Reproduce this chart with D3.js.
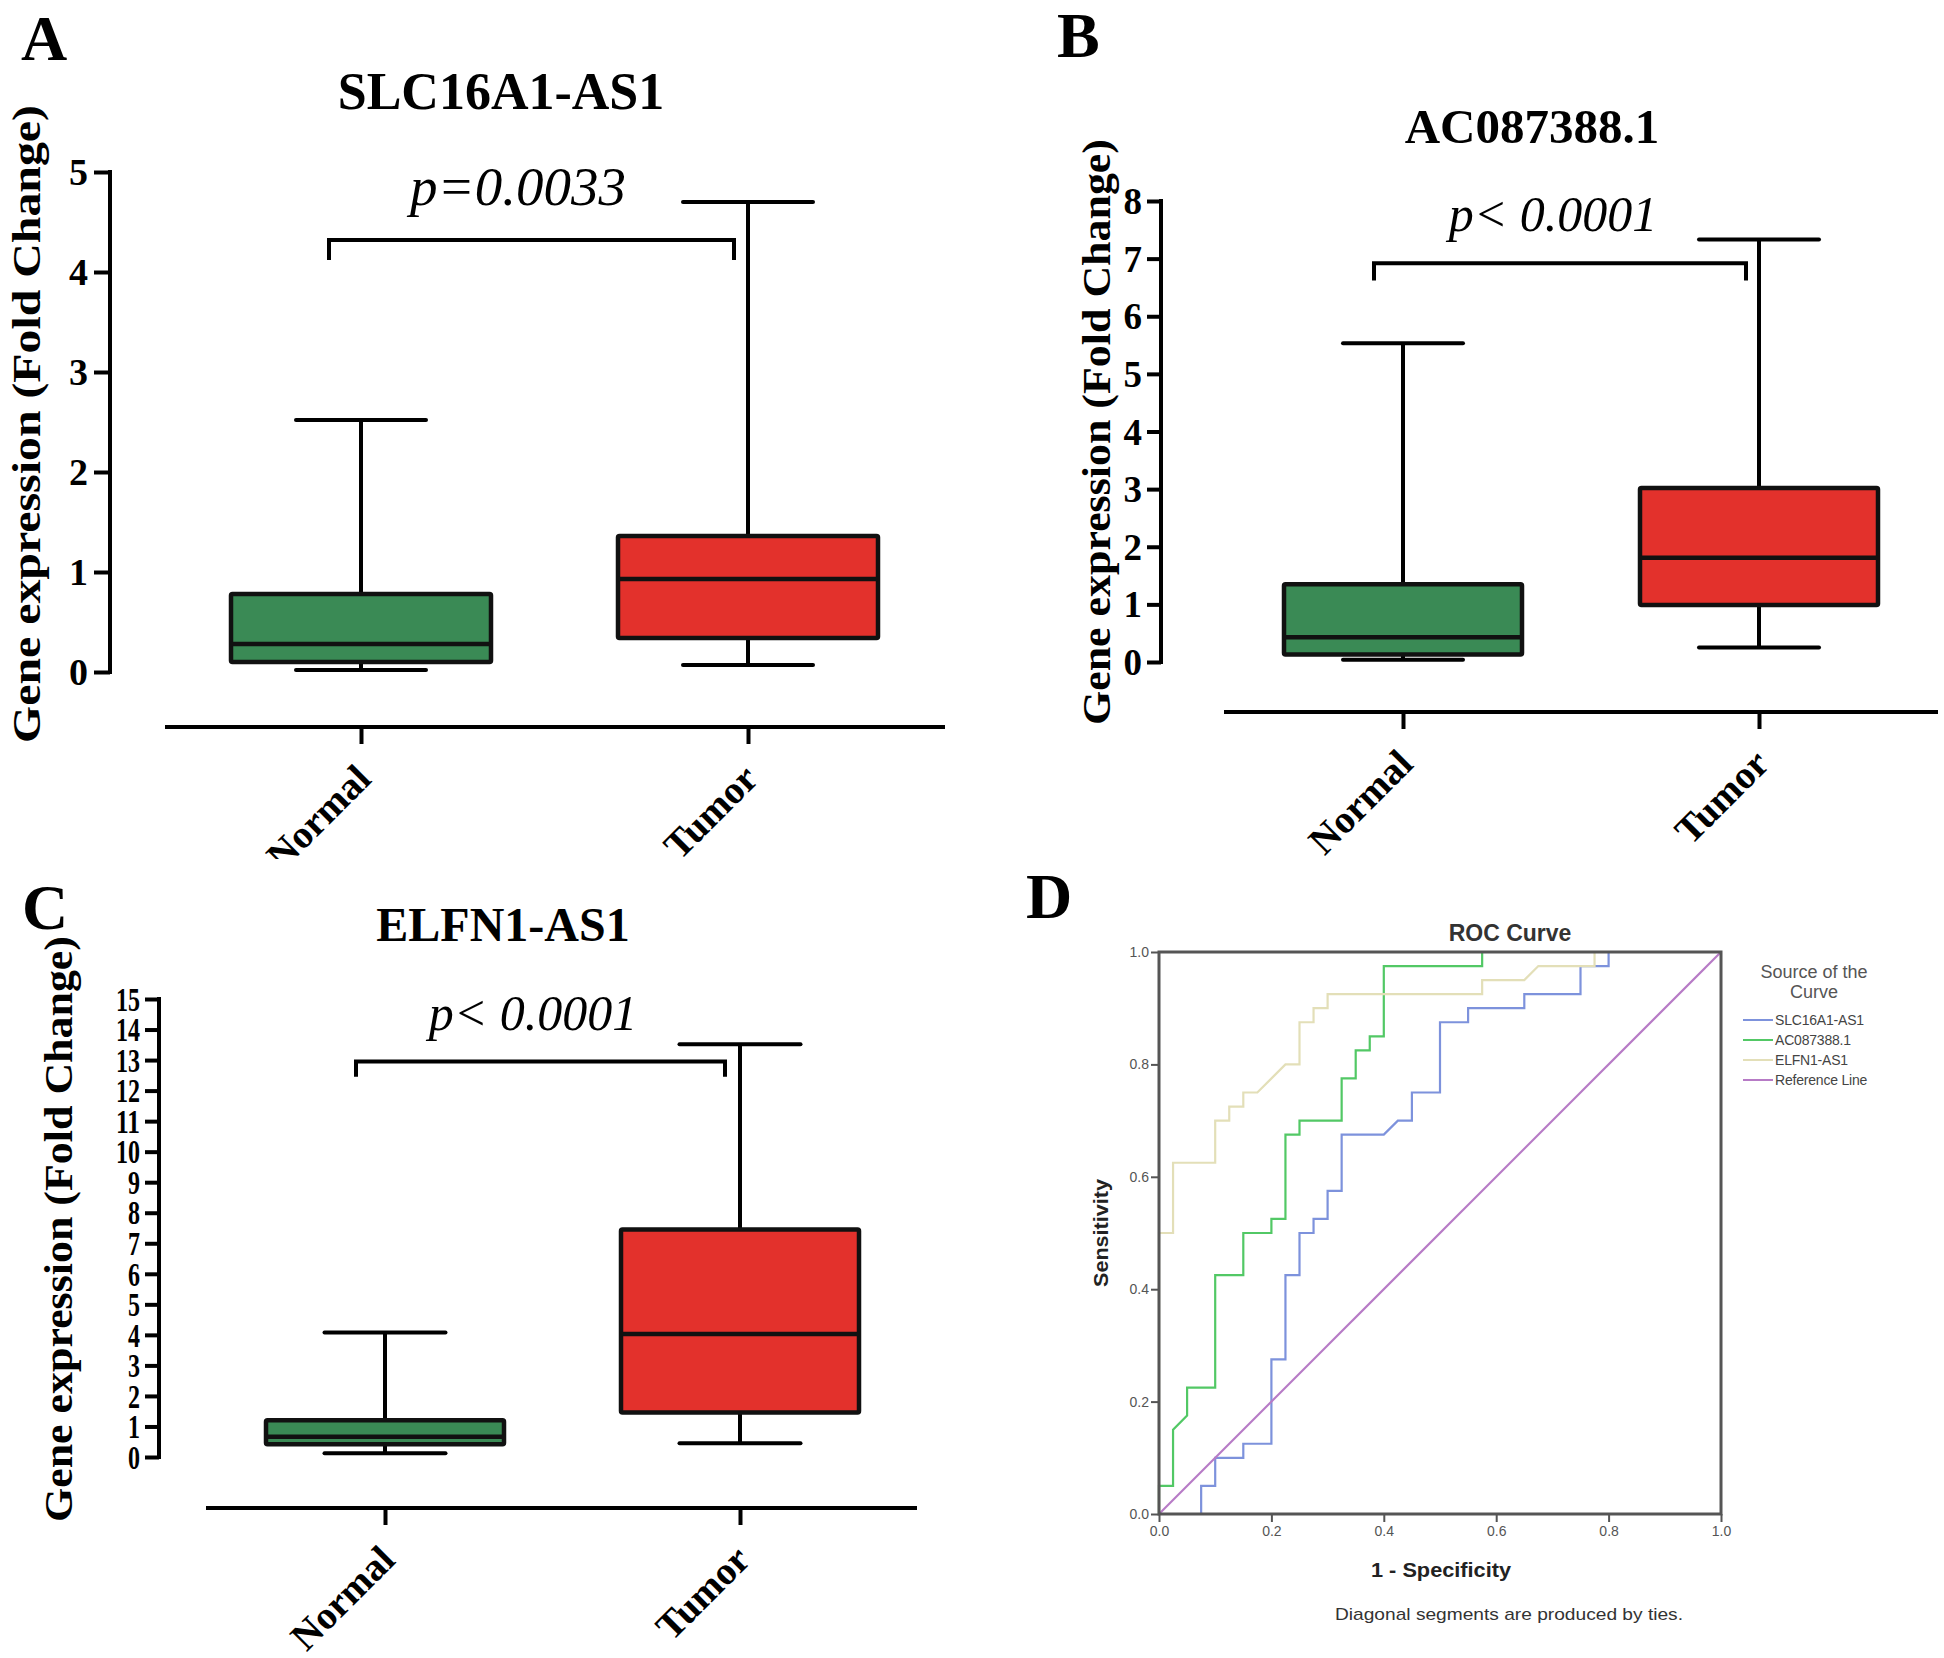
<!DOCTYPE html>
<html>
<head>
<meta charset="utf-8">
<script src="https://cdnjs.cloudflare.com/ajax/libs/d3/7.8.5/d3.min.js"></script>
<style>
  html, body { margin: 0; padding: 0; background: #fff; }
  svg { display: block; }
</style>
</head>
<body>
<svg id="chart" width="1944" height="1658"></svg>
<script>
// ---------------- DATA ----------------
const groups = ["Normal", "Tumor"];

// box stats: [whisker min, Q1, median, Q3, whisker max]
const slcNormal = [0.02, 0.10, 0.28, 0.78, 2.52];
const slcTumor  = [0.07, 0.34, 0.93, 1.36, 4.70];
const acNormal  = [0.04, 0.13, 0.43, 1.35, 5.53];
const acTumor   = [0.25, 0.99, 1.81, 3.02, 7.33];
const elfNormal = [0.12, 0.42, 0.66, 1.20, 4.08];
const elfTumor  = [0.45, 1.46, 4.03, 7.45, 13.52];

// y-axis ticks
const ticksA = [0, 1, 2, 3, 4, 5];
const ticksB = [0, 1, 2, 3, 4, 5, 6, 7, 8];
const ticksC = [0, 1, 2, 3, 4, 5, 6, 7, 8, 9, 10, 11, 12, 13, 14, 15];

// significance brackets: [bar level, leg end level]
const bracketA = [4.32, 4.12];
const bracketB = [6.92, 6.62];
const bracketC = [12.95, 12.45];
const pTexts = ["p=0.0033", "p< 0.0001", "p< 0.0001"];
const titles = ["SLC16A1-AS1", "AC087388.1", "ELFN1-AS1"];

// ROC curves: [1 - specificity, sensitivity]
const rocSLC = [[0,0],[0.075,0],[0.075,0.05],[0.1,0.05],[0.1,0.1],[0.15,0.1],[0.15,0.125],[0.2,0.125],[0.2,0.275],[0.225,0.275],[0.225,0.425],[0.25,0.425],[0.25,0.5],[0.275,0.5],[0.275,0.525],[0.3,0.525],[0.3,0.575],[0.325,0.575],[0.325,0.675],[0.4,0.675],[0.425,0.7],[0.45,0.7],[0.45,0.75],[0.5,0.75],[0.5,0.875],[0.55,0.875],[0.55,0.9],[0.65,0.9],[0.65,0.925],[0.75,0.925],[0.75,0.975],[0.8,0.975],[0.8,1],[1,1]];
const rocAC = [[0,0],[0,0.05],[0.025,0.05],[0.025,0.15],[0.05,0.175],[0.05,0.225],[0.1,0.225],[0.1,0.425],[0.15,0.425],[0.15,0.5],[0.2,0.5],[0.2,0.525],[0.225,0.525],[0.225,0.675],[0.25,0.675],[0.25,0.7],[0.325,0.7],[0.325,0.775],[0.35,0.775],[0.35,0.825],[0.375,0.825],[0.375,0.85],[0.4,0.85],[0.4,0.975],[0.575,0.975],[0.575,1],[1,1]];
const rocELF = [[0,0],[0,0.5],[0.025,0.5],[0.025,0.625],[0.1,0.625],[0.1,0.7],[0.125,0.7],[0.125,0.725],[0.15,0.725],[0.15,0.75],[0.175,0.75],[0.225,0.8],[0.25,0.8],[0.25,0.875],[0.275,0.875],[0.275,0.9],[0.3,0.9],[0.3,0.925],[0.575,0.925],[0.575,0.95],[0.65,0.95],[0.675,0.975],[0.775,0.975],[0.775,1],[1,1]];
const rocRef = [[0,0],[1,1]];
const rocTicks = [0, 0.2, 0.4, 0.6, 0.8, 1.0];
const legendNames = ["SLC16A1-AS1", "AC087388.1", "ELFN1-AS1", "Reference Line"];

// ---------------- DRAW ----------------
const svg = d3.select("#chart");
svg.append("rect").attr("width", 1944).attr("height", 1658).attr("fill", "#fff");

const SERIF = "'Liberation Serif', 'Times New Roman', serif";
const SANS = "'Liberation Sans', Arial, sans-serif";
const GREEN = "#3a8a55", RED = "#e3312c";

const defs = svg.append("defs");
defs.append("clipPath").attr("id", "clipA").append("rect")
  .attr("x", 0).attr("y", 0).attr("width", 972).attr("height", 859);

function boxPanel(c) {
  const g = svg.append("g");
  if (c.clip) g.attr("clip-path", "url(#" + c.clip + ")");
  const y = d3.scaleLinear().domain([0, c.max]).range([c.y0, c.yTop]);
  const x = d3.scalePoint().domain(groups).range(c.centers);

  // panel letter
  svg.append("text").attr("x", c.labelX).attr("y", c.labelY)
    .attr("font-family", SERIF).attr("font-weight", "bold").attr("font-size", 64)
    .text(c.letter);
  // title
  g.append("text").attr("x", c.titleX).attr("y", c.titleY).attr("text-anchor", "middle")
    .attr("font-family", SERIF).attr("font-weight", "bold").attr("font-size", c.titleFont)
    .text(c.title);
  // y label
  g.append("text")
    .attr("transform", `translate(${c.ylabX},${c.ylabY}) rotate(-90)`)
    .attr("text-anchor", "middle")
    .attr("font-family", SERIF).attr("font-weight", "bold").attr("font-size", 41)
    .attr("textLength", c.ylabLen).attr("lengthAdjust", "spacingAndGlyphs")
    .text("Gene expression (Fold Change)");

  // y axis
  const yAxis = d3.axisLeft(y).tickValues(c.ticks).tickSize(c.tickLen).tickPadding(c.tickPad)
    .tickFormat(d3.format("d"));
  const ya = g.append("g").attr("transform", `translate(${c.axisX},0)`).call(yAxis);
  ya.select(".domain").attr("stroke", "#000").attr("stroke-width", 4)
    .attr("d", `M0,${y(0) + 2}V${y(c.max) - 2}`);
  ya.selectAll(".tick line").attr("stroke", "#000").attr("stroke-width", 4);
  const tt = ya.selectAll(".tick text").attr("font-family", SERIF).attr("font-weight", "bold")
    .attr("font-size", c.tickFont).attr("fill", "#000").attr("dy", "0.34em");
  if (c.tickCharW) {
    tt.attr("textLength", function () { return this.textContent.length * c.tickCharW; })
      .attr("lengthAdjust", "spacingAndGlyphs");
  }

  // x axis (offset below)
  const xAxis = d3.axisBottom(x).tickSize(c.xTickLen).tickFormat("");
  const xa = g.append("g").attr("transform", `translate(0,${c.xAxisY})`).call(xAxis);
  xa.select(".domain").attr("stroke", "#000").attr("stroke-width", 4)
    .attr("d", `M${c.xAxisX1},0H${c.xAxisX2}`);
  xa.selectAll(".tick line").attr("stroke", "#000").attr("stroke-width", 4);
  groups.forEach(gr => {
    g.append("text")
      .attr("transform", `translate(${x(gr) + c.xlabDx},${c.xAxisY + c.xlabDy}) rotate(-45)`)
      .attr("text-anchor", "end")
      .attr("font-family", SERIF).attr("font-weight", "bold").attr("font-size", 39)
      .text(gr);
  });

  // boxes
  const stats = [c.stats[0], c.stats[1]];
  stats.forEach((s, i) => {
    const cx = x(groups[i]);
    const col = i === 0 ? GREEN : RED;
    g.append("line").attr("x1", cx).attr("x2", cx).attr("y1", y(s[0])).attr("y2", y(s[4]))
      .attr("stroke", "#000").attr("stroke-width", 4);
    [s[0], s[4]].forEach(v => {
      g.append("line").attr("x1", cx - c.capW / 2).attr("x2", cx + c.capW / 2)
        .attr("y1", y(v)).attr("y2", y(v))
        .attr("stroke", "#000").attr("stroke-width", 4).attr("stroke-linecap", "round");
    });
    g.append("rect").attr("x", cx - c.boxW / 2).attr("y", y(s[3]))
      .attr("width", c.boxW).attr("height", y(s[1]) - y(s[3]))
      .attr("fill", col).attr("stroke", "#111").attr("stroke-width", 4.5)
      .attr("rx", 1.5);
    g.append("line").attr("x1", cx - c.boxW / 2).attr("x2", cx + c.boxW / 2)
      .attr("y1", y(s[2])).attr("y2", y(s[2]))
      .attr("stroke", "#111").attr("stroke-width", 4.5);
  });

  // bracket
  const [bLevel, bLeg] = c.bracket;
  g.append("path")
    .attr("d", `M${c.brX[0]},${y(bLeg)}V${y(bLevel)}H${c.brX[1]}V${y(bLeg)}`)
    .attr("fill", "none").attr("stroke", "#000").attr("stroke-width", 4);
  g.append("text").attr("x", c.pX).attr("y", c.pY).attr("text-anchor", "middle")
    .attr("font-family", SERIF).attr("font-style", "italic").attr("font-size", c.pFont)
    .text(c.pText);
}

boxPanel({
  letter: "A", labelX: 21, labelY: 60, clip: "clipA",
  title: titles[0], titleX: 501, titleY: 109, titleFont: 52,
  ylabX: 40, ylabY: 424, ylabLen: 638,
  max: 5, y0: 672, yTop: 172, ticks: ticksA, axisX: 110, tickLen: 16, tickPad: 6, tickFont: 38,
  xAxisY: 727, xAxisX1: 165, xAxisX2: 945, xTickLen: 17, xlabDx: 12, xlabDy: 54,
  centers: [361, 748], boxW: 260, capW: 130,
  stats: [slcNormal, slcTumor],
  bracket: bracketA, brX: [329, 734], pText: pTexts[0], pX: 518, pY: 205, pFont: 55
});

boxPanel({
  letter: "B", labelX: 1057, labelY: 57,
  title: titles[1], titleX: 1532, titleY: 143, titleFont: 49,
  ylabX: 1110, ylabY: 432, ylabLen: 586,
  max: 8, y0: 662, yTop: 201, ticks: ticksB, axisX: 1161, tickLen: 14, tickPad: 5, tickFont: 37,
  xAxisY: 712, xAxisX1: 1224, xAxisX2: 1938, xTickLen: 17, xlabDx: 12, xlabDy: 54,
  centers: [1403, 1759], boxW: 238, capW: 120,
  stats: [acNormal, acTumor],
  bracket: bracketB, brX: [1374, 1746], pText: pTexts[1], pX: 1553, pY: 231, pFont: 50
});

boxPanel({
  letter: "C", labelX: 22, labelY: 929,
  title: titles[2], titleX: 503, titleY: 941, titleFont: 48,
  ylabX: 72, ylabY: 1229, ylabLen: 586,
  max: 15, y0: 1457, yTop: 999, ticks: ticksC, axisX: 159, tickLen: 14, tickPad: 5, tickFont: 33,
  tickCharW: 12,
  xAxisY: 1508, xAxisX1: 206, xAxisX2: 917, xTickLen: 17, xlabDx: 12, xlabDy: 54,
  centers: [385, 740], boxW: 238, capW: 121,
  stats: [elfNormal, elfTumor],
  bracket: bracketC, brX: [356, 725], pText: pTexts[2], pX: 533, pY: 1030, pFont: 50
});

// ---------------- PANEL D: ROC ----------------
const D = svg.append("g");
D.append("text").attr("x", 1026).attr("y", 918)
  .attr("font-family", SERIF).attr("font-weight", "bold").attr("font-size", 64).text("D");

const rx = d3.scaleLinear().domain([0, 1]).range([1159, 1721]);
const ry = d3.scaleLinear().domain([0, 1]).range([1514, 952]);

D.append("text").attr("x", 1510).attr("y", 941).attr("text-anchor", "middle")
  .attr("font-family", SANS).attr("font-weight", "bold").attr("font-size", 23)
  .attr("fill", "#333").text("ROC Curve");

const line = d3.line().x(d => rx(d[0])).y(d => ry(d[1]));
const rocSeries = [rocSLC, rocAC, rocELF, rocRef];
const rocColors = ["#7d92dc", "#52c865", "#e3dfb8", "#b77bc6"];
rocSeries.forEach((s, i) => {
  D.append("path").attr("d", line(s)).attr("fill", "none")
    .attr("stroke", rocColors[i]).attr("stroke-width", 2.2);
});

// frame
D.append("rect").attr("x", rx(0)).attr("y", ry(1)).attr("width", rx(1) - rx(0))
  .attr("height", ry(0) - ry(1)).attr("fill", "none").attr("stroke", "#555").attr("stroke-width", 3);

const ax = d3.axisBottom(rx).tickValues(rocTicks).tickSize(8).tickPadding(4).tickFormat(d3.format(".1f"));
const axg = D.append("g").attr("transform", `translate(0,${ry(0)})`).call(ax);
axg.select(".domain").remove();
axg.selectAll(".tick line").attr("stroke", "#555").attr("stroke-width", 2);
axg.selectAll(".tick text").attr("font-family", SANS).attr("font-size", 14).attr("fill", "#555");

const ay = d3.axisLeft(ry).tickValues(rocTicks).tickSize(8).tickPadding(2).tickFormat(d3.format(".1f"));
const ayg = D.append("g").attr("transform", `translate(${rx(0)},0)`).call(ay);
ayg.select(".domain").remove();
ayg.selectAll(".tick line").attr("stroke", "#555").attr("stroke-width", 2);
ayg.selectAll(".tick text").attr("font-family", SANS).attr("font-size", 14).attr("fill", "#555");

D.append("text").attr("transform", `translate(1108,1233) rotate(-90)`).attr("text-anchor", "middle")
  .attr("font-family", SANS).attr("font-weight", "bold").attr("font-size", 20).attr("fill", "#222")
  .attr("textLength", 108).attr("lengthAdjust", "spacingAndGlyphs").text("Sensitivity");
D.append("text").attr("x", 1441).attr("y", 1577).attr("text-anchor", "middle")
  .attr("font-family", SANS).attr("font-weight", "bold").attr("font-size", 20).attr("fill", "#222")
  .attr("textLength", 140).attr("lengthAdjust", "spacingAndGlyphs").text("1 - Specificity");
D.append("text").attr("x", 1509).attr("y", 1620).attr("text-anchor", "middle")
  .attr("font-family", SANS).attr("font-size", 17).attr("fill", "#333")
  .attr("textLength", 348).attr("lengthAdjust", "spacingAndGlyphs")
  .text("Diagonal segments are produced by ties.");

// legend
D.append("text").attr("x", 1814).attr("y", 978).attr("text-anchor", "middle")
  .attr("font-family", SANS).attr("font-size", 18).attr("fill", "#555").text("Source of the");
D.append("text").attr("x", 1814).attr("y", 998).attr("text-anchor", "middle")
  .attr("font-family", SANS).attr("font-size", 18).attr("fill", "#555").text("Curve");
legendNames.forEach((n, i) => {
  const yy = 1020 + i * 20;
  D.append("line").attr("x1", 1743).attr("x2", 1773).attr("y1", yy).attr("y2", yy)
    .attr("stroke", rocColors[i]).attr("stroke-width", 2);
  D.append("text").attr("x", 1775).attr("y", yy + 5)
    .attr("font-family", SANS).attr("font-size", 14).attr("fill", "#444")
    .attr("letter-spacing", "-0.2").text(n);
});
</script>
</body>
</html>
